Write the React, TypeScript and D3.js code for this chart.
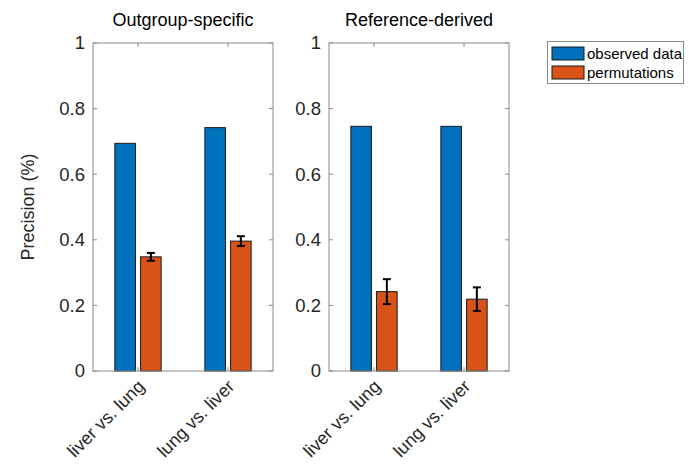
import React from "react";
import * as d3 from "d3";

const categories = ["liver vs. lung", "lung vs. liver"];
const seriesNames = ["observed data", "permutations"];
const panelTitles = ["Outgroup-specific", "Reference-derived"];
const observedValues = [
  [0.694, 0.742],
  [0.746, 0.746],
];
const permutationValues = [
  [0.348, 0.396],
  [0.242, 0.219],
];
const permutationErrors = [
  [0.012, 0.015],
  [0.038, 0.036],
];
const yTicks = [0, 0.2, 0.4, 0.6, 0.8, 1];
const colors = ["#0072BD", "#D95319"];

const FONT = "'Liberation Sans', Arial, Helvetica, sans-serif";
const W = 689;
const H = 470;
const panelLefts = [93, 329];
const panelWidth = 180;
const top = 43;
const bottom = 371;

function Panel({ idx }: { idx: number }) {
  const x0 = panelLefts[idx];
  const x = d3.scaleLinear().domain([0.5, 2.5]).range([x0, x0 + panelWidth]);
  const y = d3.scaleLinear().domain([0, 1]).range([bottom, top]);
  const groupWidth = 2 / (2 + 1.5);
  const sub = d3
    .scaleBand<string>()
    .domain(seriesNames)
    .range([-groupWidth / 2, groupWidth / 2])
    .paddingInner(0.2)
    .paddingOuter(0.1);
  const unit = x(1) - x(0);
  const bw = sub.bandwidth() * unit;
  const axisColor = "#8a8a8a";
  const tickLen = 4;
  const seriesValues = [observedValues[idx], permutationValues[idx]];
  return (
    <g>
      <text
        x={x0 + panelWidth / 2}
        y={26}
        textAnchor="middle"
        fontFamily={FONT}
        fontSize={18}
        fill="#000"
      >
        {panelTitles[idx]}
      </text>
      {seriesNames.map((s, si) =>
        categories.map((c, ci) => {
          const cx = x(ci + 1) + (sub(s)! + sub.bandwidth() / 2) * unit;
          const v = seriesValues[si][ci];
          return (
            <rect
              key={s + c}
              x={cx - bw / 2}
              y={y(v)}
              width={bw}
              height={y(0) - y(v)}
              fill={colors[si]}
              stroke="#1a1a1a"
              strokeWidth={1}
            />
          );
        })
      )}
      {categories.map((c, ci) => {
        const cx =
          x(ci + 1) + (sub(seriesNames[1])! + sub.bandwidth() / 2) * unit;
        const v = permutationValues[idx][ci];
        const e = permutationErrors[idx][ci];
        const cap = 4;
        return (
          <g key={"err" + c} stroke="#000" strokeWidth={2}>
            <line x1={cx} x2={cx} y1={y(v - e)} y2={y(v + e)} />
            <line x1={cx - cap} x2={cx + cap} y1={y(v - e)} y2={y(v - e)} />
            <line x1={cx - cap} x2={cx + cap} y1={y(v + e)} y2={y(v + e)} />
          </g>
        );
      })}
      <rect
        x={x0}
        y={top}
        width={panelWidth}
        height={bottom - top}
        fill="none"
        stroke={axisColor}
        strokeWidth={1}
      />
      {yTicks.map((t) => (
        <g key={"yt" + t}>
          <line x1={x0} x2={x0 + tickLen} y1={y(t)} y2={y(t)} stroke={axisColor} />
          <line
            x1={x0 + panelWidth}
            x2={x0 + panelWidth - tickLen}
            y1={y(t)}
            y2={y(t)}
            stroke={axisColor}
          />
          <text
            x={x0 - 8}
            y={y(t)}
            dy="0.35em"
            textAnchor="end"
            fontFamily={FONT}
            fontSize={18.5}
            fill="#262626"
          >
            {d3.format("~g")(t)}
          </text>
        </g>
      ))}
      {categories.map((c, ci) => (
        <g key={"xt" + c}>
          <line x1={x(ci + 1)} x2={x(ci + 1)} y1={bottom} y2={bottom - tickLen} stroke={axisColor} />
          <line x1={x(ci + 1)} x2={x(ci + 1)} y1={top} y2={top + tickLen} stroke={axisColor} />
          <text
            transform={`translate(${x(ci + 1) + 3},${bottom + 12}) rotate(-45)`}
            textAnchor="end"
            dy="0.35em"
            fontFamily={FONT}
            fontSize={18}
            fill="#262626"
          >
            {c}
          </text>
        </g>
      ))}
    </g>
  );
}

export default function App() {
  return (
    <svg width={W} height={H} style={{ display: "block", position: "absolute", left: 0, top: 0 }}>
      <rect width={W} height={H} fill="#fff" />
      <Panel idx={0} />
      <Panel idx={1} />
      <text
        transform={`translate(34,${(top + bottom) / 2}) rotate(-90)`}
        textAnchor="middle"
        fontFamily={FONT}
        fontSize={18}
        fill="#262626"
      >
        Precision (%)
      </text>
      <g>
        <rect x={547.5} y={41.5} width={136} height={42} fill="#fff" stroke="#8a8a8a" />
        {seriesNames.map((s, i) => (
          <g key={s}>
            <rect
              x={552}
              y={47 + i * 19}
              width={32}
              height={13}
              fill={colors[i]}
              stroke="#1a1a1a"
            />
            <text
              x={587}
              y={53.5 + i * 19}
              dy="0.35em"
              fontFamily={FONT}
              fontSize={15}
              fill="#000"
            >
              {s}
            </text>
          </g>
        ))}
      </g>
    </svg>
  );
}
